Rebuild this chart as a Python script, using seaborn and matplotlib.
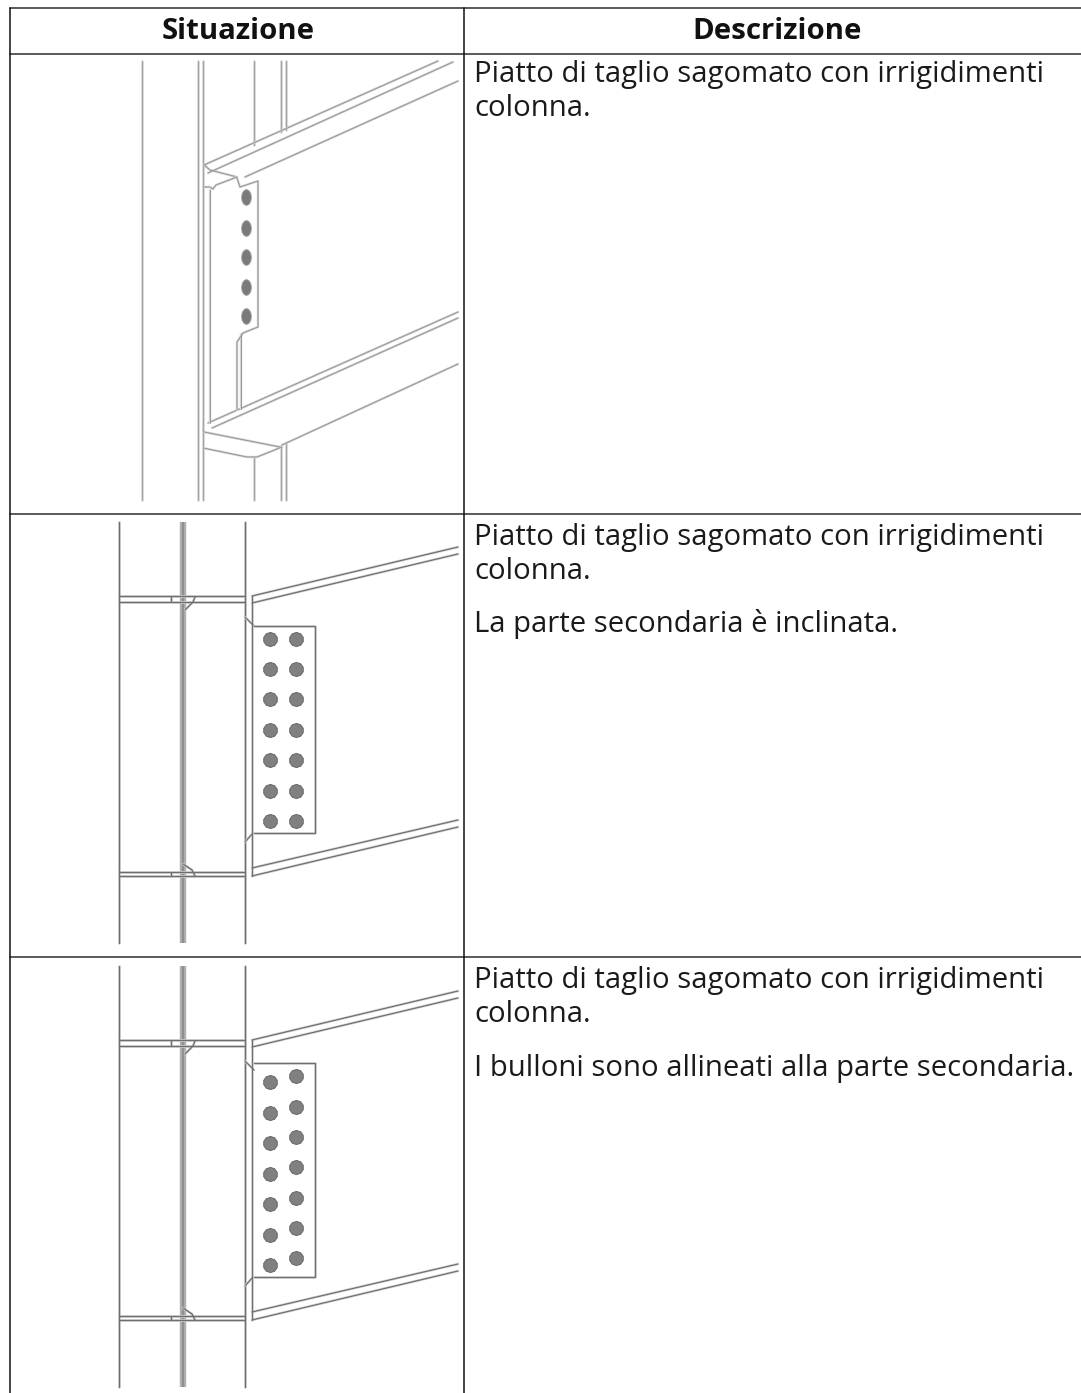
import numpy as np
import pandas as pd
import matplotlib
matplotlib.use("Agg")
import matplotlib.pyplot as plt
import seaborn as sns
from matplotlib.path import Path
from matplotlib.transforms import Affine2D

# TABLE CONTENT
headers = ["Situazione", "Descrizione"]
row_text_1 = ["Piatto di taglio sagomato con irrigidimenti", "colonna."]
row_text_2 = ["Piatto di taglio sagomato con irrigidimenti", "colonna.", "La parte secondaria è inclinata."]
row_text_3 = ["Piatto di taglio sagomato con irrigidimenti", "colonna.", "I bulloni sono allineati alla parte secondaria."]
baselines_1 = [82, 116]
baselines_2 = [545, 579, 632]
baselines_3 = [988, 1022, 1076]

# DRAWING 1, in image pixels
iso_column = [
    [(142, 61), (142, 500)],
    [(197.5, 61), (197.5, 500)],
    [(202.5, 61), (202.5, 500)],
    [(254, 61), (254, 145)],
    [(254, 457), (254, 500)],
    [(280.5, 61), (280.5, 132)],
    [(285.5, 61), (285.5, 130)],
    [(280.5, 445), (280.5, 500)],
    [(285.5, 443), (285.5, 500)],
]
iso_beam = [
    [(204, 165), (438, 61)],
    [(208, 173), (453, 62)],
    [(245, 177), (458, 81)],
    [(208, 423), (458, 312)],
    [(212, 428), (458, 318)],
    [(282, 445), (458, 364)],
    [(204, 165), (210, 170), (237, 177)],
    [(203, 429), (204, 432), (280, 447)],
    [(203, 448), (247, 457), (257, 457), (282, 447)],
]
iso_plate = [
    [(203, 187), (210, 187), (213, 189), (216, 185), (237, 177)],
    [(210, 190), (210, 423)],
    [(237, 178), (240, 187), (258, 181), (258, 327), (243, 333), (237, 342), (237, 410)],
    [(241, 334), (241, 409)],
]
iso_bolt_x = [246, 246, 246, 246, 246]
iso_bolt_y = [196.5, 227.5, 257, 287, 316]

# DRAWING 2 - the same column and beam come back in drawing 3, lower down
side_column = [
    [(119, 522), (119, 943)],
    [(245, 522), (245, 943)],
    [(119, 596), (245, 596)],
    [(119, 602), (245, 602)],
    [(119, 872), (245, 872)],
    [(119, 876), (245, 876)],
    [(171, 597), (171, 601)],
    [(195, 597), (193, 602), (185, 610)],
    [(183, 864), (192, 870), (195, 876)],
    [(171, 873), (171, 876)],
]
side_web_x = [183, 183]
side_web_y = [522, 943]
side_beam = [
    [(252, 596), (458, 547)],
    [(252, 603), (458, 554)],
    [(252, 868), (458, 820)],
    [(252, 876), (458, 827)],
    [(252, 596), (252, 876)],
    [(245, 617), (254, 626)],
    [(245, 842), (253, 833)],
]
row3_shift = 444

plate_left = [253.5, 253.5]
plate_right = [315, 315]
plate2_y = [626, 833]
plate3_y = [1063, 1277]

bolt2_x = [269.5] * 7 + [296] * 7
bolt2_y = [638.7, 669, 699.3, 729.7, 760.3, 791, 821.3] * 2
bolt3_x = [269.5] * 7 + [296] * 7
bolt3_y = [1082.3, 1112.7, 1143, 1173.7, 1204, 1234.7, 1265,
           1076, 1106.7, 1137, 1167.3, 1197.7, 1228, 1258.3]

# TABLE RULES
rule_y = [8, 53.5, 513.5, 957]
rule_x = [9.5, 463.5]


def draw_lines(ax, lines, dy=0, color="#6e6e6e", width=0.75):
    rows = []
    for i, line in enumerate(lines):
        for x, y in line:
            rows.append({"line": i, "x": x, "y": y + dy})
    df = pd.DataFrame(rows)
    # halo first, the scanned look of the reference
    sns.lineplot(data=df, x="x", y="y", units="line", estimator=None, sort=False,
                 color="#d4d4d4", linewidth=width + 1.0, legend=False, ax=ax)
    sns.lineplot(data=df, x="x", y="y", units="line", estimator=None, sort=False,
                 color=color, linewidth=width, legend=False, ax=ax)


def plate_lines(xl, xr, ys):
    return [[(xl, ys[0]), (xr, ys[0]), (xr, ys[1]), (xl, ys[1])]]


sns.set_theme(style="white")
plt.rcParams["font.family"] = ["Open Sans", "DejaVu Sans"]

fig = plt.figure(figsize=(10.81, 13.93), dpi=100)
ax = fig.add_axes([0, 0, 1, 1])
ax.set_xlim(0, 1081)
ax.set_ylim(1393, 0)
ax.set_axis_off()

# table rules
for y in rule_y:
    ax.axhline(y, xmin=rule_x[0] / 1081, color="#4d4d4d", linewidth=1.3)
for x in rule_x:
    ax.plot([x, x], [rule_y[0], 1393], color="#111111", linewidth=1.1)

# first drawing
draw_lines(ax, iso_column, color="#a3a3a3", width=0.8)
draw_lines(ax, iso_beam, color="#969696", width=0.7)
draw_lines(ax, iso_plate, color="#969696", width=0.7)
oval = Affine2D().scale(0.62, 1).transform_path(Path.unit_regular_polygon(12))
sns.scatterplot(x=iso_bolt_x, y=iso_bolt_y, marker=oval, s=135, color="#7a7a7a",
                edgecolor="#a8a8a8", linewidth=0.6, legend=False, ax=ax)

# second and third drawing
bolt_shape = Path.unit_regular_polygon(10)
for dy, plate_y, bx, by in [(0, plate2_y, bolt2_x, bolt2_y),
                            (row3_shift, plate3_y, bolt3_x, bolt3_y)]:
    sns.lineplot(x=side_web_x, y=[v + dy for v in side_web_y], estimator=None, sort=False,
                 color="#b0b0b0", linewidth=4.6, solid_capstyle="butt", ax=ax)
    sns.lineplot(x=side_web_x, y=[v + dy for v in side_web_y], estimator=None, sort=False,
                 color="#8f8f8f", linewidth=1.6, solid_capstyle="butt", ax=ax)
    draw_lines(ax, side_column, dy=dy, width=0.95)
    draw_lines(ax, side_beam, dy=dy, width=0.85)
    draw_lines(ax, plate_lines(plate_left[0], plate_right[0], plate_y), width=0.9)
    sns.scatterplot(x=bx, y=by, marker=bolt_shape, s=105, color="#808080",
                    edgecolor="#5f5f5f", linewidth=0.6, legend=False, ax=ax)

# header and description text
ax.text(238, 39, headers[0], fontsize=21.2, fontweight="bold", ha="center", va="baseline", color="#111111")
ax.text(777, 39, headers[1], fontsize=21.2, fontweight="bold", ha="center", va="baseline", color="#111111")
for texts, ys in [(row_text_1, baselines_1), (row_text_2, baselines_2), (row_text_3, baselines_3)]:
    for t, y in zip(texts, ys):
        ax.text(474, y, t, fontsize=21.1, ha="left", va="baseline", color="#1a1a1a")

ax.set_xlim(0, 1081)
ax.set_ylim(1393, 0)
fig.savefig("out.png", dpi=100)
